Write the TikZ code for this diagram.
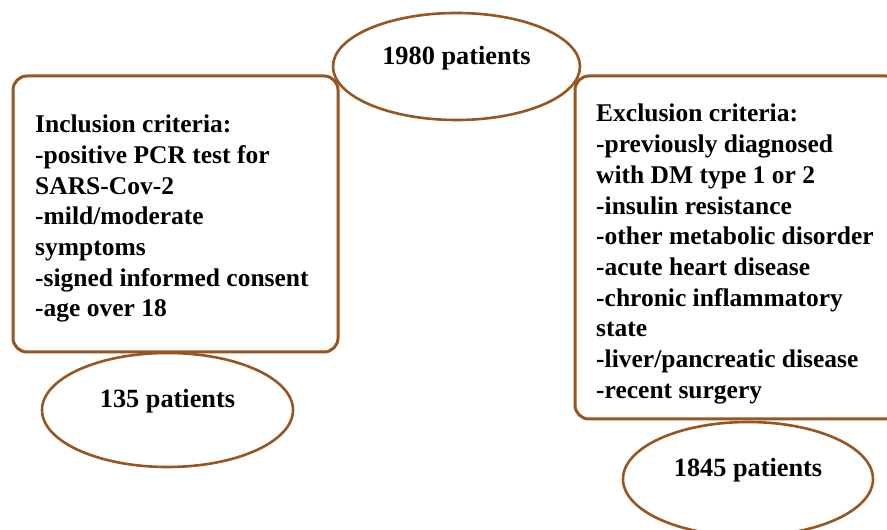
\documentclass[tikz,border=0pt]{standalone}
\usepackage{fontspec}
\setmainfont{Liberation Serif}
\usetikzlibrary{shapes.geometric}
\definecolor{brownline}{RGB}{150,86,33}
\tikzset{
  critbox/.style={draw=brownline, line width=3pt, rounded corners=14pt},
  ell/.style={ellipse, draw=brownline, line width=2.6pt, inner sep=0pt},
  txt/.style={font=\fontsize{25.5}{30.7}\selectfont\bfseries, inner sep=0pt, align=left},
  ctxt/.style={font=\fontsize{26.3}{30}\selectfont\bfseries, inner sep=0pt, anchor=base}
}
\begin{document}
\begin{tikzpicture}[x=1pt,y=1pt]
\useasboundingbox (0,0) rectangle (887,530);
\clip (0,0) rectangle (887,530);
% boxes
\draw[critbox] (13,178) coordinate (lbsw) rectangle (338,454) coordinate (lbne);
\draw[critbox] (575,111) coordinate (rbsw) rectangle (900,454) coordinate (rbne);
% ellipses
\node[ell, minimum width=247pt, minimum height=107pt] (e1980) at (456.5,463.5) {};
\node[ell, minimum width=251pt, minimum height=114pt] (e135) at (167.5,120) {};
\node[ell, minimum width=250pt, minimum height=114pt] (e1845) at (748,51) {};
\node[ctxt] (t1980) at ([yshift=1.5pt]e1980.center) {1980 patients};
\node[ctxt] (t135) at ([yshift=2pt]e135.center) {135 patients};
\node[ctxt] (t1845) at ([yshift=2pt]e1845.center) {1845 patients};
% criteria text (anchor base = baseline of last line)
\node[txt, anchor=base west] (inc) at (35,213) {Inclusion criteria:\\
-positive PCR test for\\
SARS-Cov-2\\
-mild/moderate\\
symptoms\\
-signed informed consent\\
-age over 18};
\node[txt, anchor=base west] (exc) at (596,131.7) {Exclusion criteria:\\
-previously diagnosed\\
with DM type 1 or 2\\
-insulin resistance\\
-other metabolic disorder\\
-acute heart disease\\
-chronic inflammatory\\
state\\
-liver/pancreatic disease\\
-recent surgery};
\end{tikzpicture}
\end{document}
